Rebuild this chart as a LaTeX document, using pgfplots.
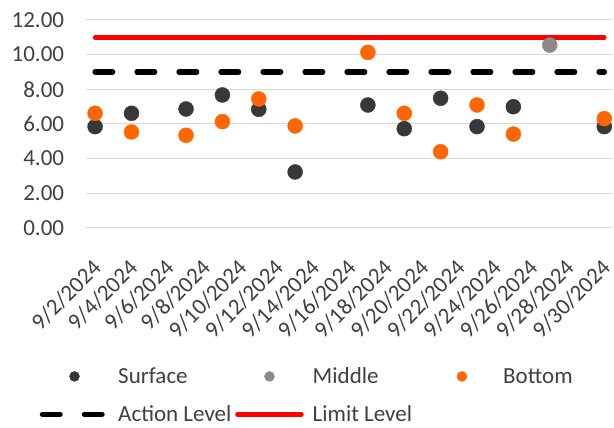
\documentclass[border=0pt]{standalone}
\usepackage{fontspec}
\setmainfont{Carlito}
\usepackage{pgfplots}
\pgfplotsset{compat=1.18}
\definecolor{surf}{HTML}{383838}
\definecolor{midc}{HTML}{8A8A8A}
\definecolor{botc}{HTML}{FF6600}
\definecolor{limc}{HTML}{FF0000}
\definecolor{txt}{HTML}{404040}
\definecolor{grd}{HTML}{D9D9D9}
\newcommand{\lfont}{\fontsize{23bp}{27bp}\selectfont}
\pgfplotsset{
  markleg/.style={legend image code/.code={\path (0bp,0bp) (73bp,0bp); \draw[##1, mark size=5bp] plot coordinates {(32bp,0bp)};}},
  lineleg/.style={legend image code/.code={\path (0bp,0bp) (73bp,0bp); \draw[##1] (0bp,0bp) -- (64bp,0bp);}},
}
\begin{document}
\begin{tikzpicture}
\begin{axis}[
  name=ax,
  scale only axis,
  width=527.4bp, height=207.7bp,
  xmin=-0.5, xmax=28.5,
  ymin=0, ymax=12,
  ytick={0,2,...,12},
  xtick={0,2,...,28},
  xticklabels={9/2/2024,9/4/2024,9/6/2024,9/8/2024,9/10/2024,9/12/2024,9/14/2024,9/16/2024,9/18/2024,9/20/2024,9/22/2024,9/24/2024,9/26/2024,9/28/2024,9/30/2024},
  axis line style={draw=none},
  tick style={draw=none},
  ymajorgrids,
  major grid style={color=grd, line width=1bp},
  clip=false,
  /pgf/number format/assume math mode=true,
  yticklabel={\pgfmathprintnumber[fixed,fixed zerofill,precision=2]{\tick}},
  ticklabel style={font=\lfont, text=txt},
  yticklabel style={anchor=east, inner sep=0pt, xshift=-21.7bp},
  xticklabel style={anchor=north east, inner sep=0pt, xshift=-4bp, yshift=-30bp, rotate=45},
  legend columns=3,
  legend style={draw=none, fill=none, inner sep=0pt, outer sep=0pt,
    at={(0,0)}, anchor=north west, xshift=-46.25bp, yshift=-140bp,
    font=\lfont, text=txt,
    nodes={inner sep=0pt, outer sep=0pt},
    /tikz/row sep=20.5bp, /tikz/column sep=0pt},
  legend cell align=left,
]
\addplot[only marks, mark=*, mark size=7.5bp, color=surf, markleg]
  coordinates {(0,5.84)(2,6.61)(5,6.86)(7,7.67)(9,6.84)(11,3.22)(15,7.09)(17,5.72)(19,7.48)(21,5.84)(23,6.99)(28,5.84)};
\addlegendentry{\makebox[117bp][l]{Surface}}
\addplot[only marks, mark=*, mark size=7.5bp, color=midc, markleg]
  coordinates {(25,10.55)};
\addlegendentry{\makebox[117bp][l]{Middle}}
\addplot[only marks, mark=*, mark size=7.5bp, color=botc, markleg]
  coordinates {(0,6.61)(2,5.53)(5,5.34)(7,6.13)(9,7.44)(11,5.88)(15,10.13)(17,6.61)(19,4.39)(21,7.09)(23,5.41)(28,6.30)};
\addlegendentry{Bottom}
\addplot[black, line width=5.5bp, line cap=round, dash pattern=on 17.5bp off 24.5bp, mark=none, lineleg]
  coordinates {(0,9)(28,9)};
\addlegendentry{\makebox[116bp][l]{Action Level}}
\addplot[limc, line width=4.5bp, line cap=round, mark=none, lineleg]
  coordinates {(0,11)(28,11)};
\addlegendentry{\makebox[117bp][l]{Limit Level}}
\end{axis}
\pgfresetboundingbox
\useasboundingbox ([xshift=-86bp,yshift=-200.3bp]ax.south west) rectangle ([xshift=0.6bp,yshift=20bp]ax.north east);
\end{tikzpicture}
\end{document}
